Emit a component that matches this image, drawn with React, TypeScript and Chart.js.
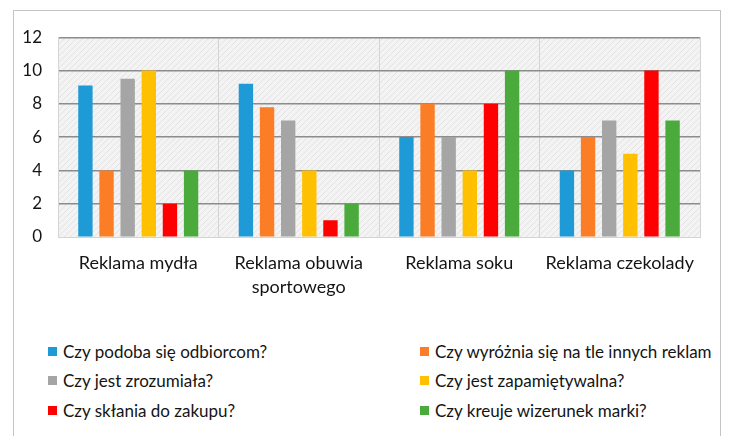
import React, { useEffect, useRef } from "react";
import { Chart, registerables } from "chart.js";

Chart.register(...registerables);

const categories: (string | string[])[] = [
  "Reklama mydła",
  ["Reklama obuwia", "sportowego"],
  "Reklama soku",
  "Reklama czekolady",
];

const seriesNames = [
  "Czy podoba się odbiorcom?",
  "Czy wyróżnia się na tle innych reklam",
  "Czy jest zrozumiała?",
  "Czy jest zapamiętywalna?",
  "Czy skłania do zakupu?",
  "Czy kreuje wizerunek marki?",
];

const podoba = [9.1, 9.2, 6, 4];
const wyroznia = [4, 7.8, 8, 6];
const zrozumiala = [9.5, 7, 6, 7];
const zapamietywalna = [10, 4, 4, 5];
const sklania = [2, 1, 8, 10];
const kreuje = [4, 2, 10, 7];

const seriesValues = [podoba, wyroznia, zrozumiala, zapamietywalna, sklania, kreuje];
const seriesColors = ["#1e9ad6", "#fb7d26", "#a5a5a5", "#ffc000", "#fe0000", "#4aab3c"];

const yTicks = [0, 2, 4, 6, 8, 10, 12];

const FONT = "Lato, 'Open Sans', sans-serif";

export default function App() {
  const ref = useRef<HTMLCanvasElement | null>(null);

  useEffect(() => {
    if (!ref.current) return;
    const pc = document.createElement("canvas");
    pc.width = 6;
    pc.height = 6;
    const p = pc.getContext("2d")!;
    p.fillStyle = "#f3f3f3";
    p.fillRect(0, 0, 6, 6);
    p.strokeStyle = "#e3e3e3";
    p.lineWidth = 1;
    p.beginPath();
    p.moveTo(0, 6);
    p.lineTo(6, 0);
    p.moveTo(-1, 1);
    p.lineTo(1, -1);
    p.moveTo(5, 7);
    p.lineTo(7, 5);
    p.stroke();

    const bgPlugin = {
      id: "bgPattern",
      beforeDraw(chart: any) {
        const { ctx, chartArea } = chart;
        const pat = ctx.createPattern(pc, "repeat");
        ctx.save();
        ctx.fillStyle = pat;
        ctx.fillRect(chartArea.left, chartArea.top, chartArea.right - chartArea.left, chartArea.bottom - chartArea.top);
        ctx.restore();
      },
    };

    const chart = new Chart(ref.current, {
      type: "bar",
      data: {
        labels: categories,
        datasets: seriesNames.map((name, i) => ({
          label: name,
          data: seriesValues[i],
          backgroundColor: seriesColors[i],
          borderWidth: 0,
          categoryPercentage: 0.79,
          barPercentage: 0.68,
        })),
      },
      options: {
        animation: false,
        responsive: false,
        maintainAspectRatio: false,
        layout: { padding: { top: 25, right: 20, left: 0, bottom: 0 } },
        plugins: {
          legend: { display: false },
          tooltip: { enabled: false },
        },
        scales: {
          x: {
            offset: true,
            grid: {
              offset: true,
              color: "#d4d4d4",
              lineWidth: 1,
              drawTicks: false,
            },
            border: { display: true, color: "#d4d4d4" },
            ticks: {
              color: "#141414",
              padding: 14,
              maxRotation: 0,
              autoSkip: false,
              font: { family: FONT, size: 18, lineHeight: 1.33 },
            },
            afterFit(scale: any) {
              scale.height = 74;
            },
          },
          y: {
            min: 0,
            max: 12,
            afterBuildTicks(scale: any) {
              scale.ticks = yTicks.map((v) => ({ value: v }));
            },
            grid: {
              drawTicks: false,
              color: (c: any) => (c.tick && c.tick.value === 0 ? "#d4d4d4" : "#8c8c8c"),
              lineWidth: (c: any) => (c.tick && c.tick.value === 0 ? 1 : 1.4),
            },
            border: { display: true, color: "#d4d4d4" },
            ticks: {
              color: "#141414",
              padding: 16,
              font: { family: FONT, size: 17 },
            },
            afterFit(scale: any) {
              scale.width = 44;
            },
          },
        },
      },
      plugins: [bgPlugin],
    } as any);
    return () => chart.destroy();
  }, []);

  const legendRows = [0, 1, 2];

  return (
    <div
      style={{
        position: "absolute",
        left: 13,
        top: 10,
        width: 706,
        height: 440,
        border: "1px solid #c4c4c4",
        background: "#fff",
        fontFamily: FONT,
      }}
    >
      <canvas ref={ref} width={706} height={300} style={{ display: "block" }} />
      {legendRows.map((r) =>
        [0, 1].map((c) => {
          const i = r * 2 + c;
          return (
            <div
              key={i}
              style={{
                position: "absolute",
                left: c === 0 ? 34 : 406,
                top: 330 + r * 29.5,
                height: 20,
                display: "flex",
                alignItems: "center",
                whiteSpace: "nowrap",
                fontSize: 17,
                color: "#141414",
              }}
            >
              <span
                style={{
                  display: "inline-block",
                  width: 9,
                  height: 9,
                  background: seriesColors[i],
                  marginRight: 6,
                }}
              />
              {seriesNames[i]}
            </div>
          );
        })
      )}
    </div>
  );
}
